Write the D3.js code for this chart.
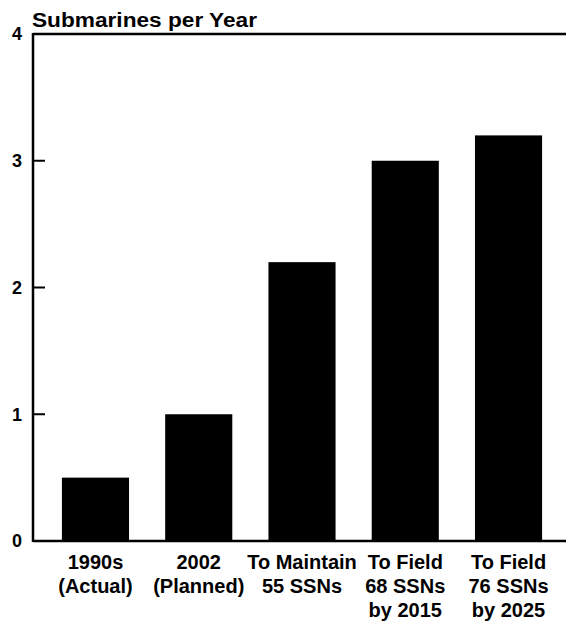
<!DOCTYPE html>
<html>
<head>
<meta charset="utf-8">
<script src="https://cdn.jsdelivr.net/npm/d3@7"></script>
<style>
  body { margin: 0; background: #fff; }
  text { font-family: "Liberation Sans", Arial, Helvetica, sans-serif; font-weight: bold; fill: #000; }
</style>
</head>
<body>
<script>
// chart data
var categories = ["1990s", "2002", "Maintain55", "Field68", "Field76"];
var labelLines = [
    ["1990s", "(Actual)"],
    ["2002", "(Planned)"],
    ["To Maintain", "55 SSNs"],
    ["To Field", "68 SSNs", "by 2015"],
    ["To Field", "76 SSNs", "by 2025"]
];
var values = [0.5, 1.0, 2.2, 3.0, 3.2];
var yTicks = [0, 1, 2, 3, 4];

var width = 566, height = 622;

var svg = d3.select("body").append("svg")
    .attr("width", width)
    .attr("height", height);

var x = d3.scaleBand()
    .domain(categories)
    .range([33, 571])
    .paddingInner(0.35)
    .paddingOuter(0.28);

var y = d3.scaleLinear()
    .domain([0, 4])
    .range([541, 34]);

// bars
svg.append("g")
    .selectAll("rect")
    .data(values)
    .enter().append("rect")
    .attr("x", function(d, i) { return x(categories[i]); })
    .attr("y", function(d) { return y(d); })
    .attr("width", x.bandwidth())
    .attr("height", function(d) { return y(0) - y(d); })
    .attr("fill", "#000");

// frame: left axis, top line, bottom line
svg.append("line")
    .attr("x1", 33).attr("x2", 33)
    .attr("y1", y(4) - 1).attr("y2", y(0) + 1)
    .attr("stroke", "#000").attr("stroke-width", 2.5);
svg.append("line")
    .attr("x1", 33).attr("x2", width)
    .attr("y1", y(4)).attr("y2", y(4))
    .attr("stroke", "#000").attr("stroke-width", 2.5);
svg.append("line")
    .attr("x1", 33).attr("x2", width)
    .attr("y1", y(0)).attr("y2", y(0))
    .attr("stroke", "#000").attr("stroke-width", 2.5);

// y ticks + labels
var ticks = svg.append("g").selectAll("g")
    .data(yTicks)
    .enter().append("g")
    .attr("transform", function(d) { return "translate(0," + y(d) + ")"; });

ticks.filter(function(d) { return d > 0 && d < 4; })
    .append("line")
    .attr("x1", 33).attr("x2", 45)
    .attr("stroke", "#000").attr("stroke-width", 2);

ticks.append("text")
    .attr("x", 22)
    .attr("dy", "0.36em")
    .attr("text-anchor", "end")
    .style("font-size", "18px")
    .text(function(d) { return d; });

// category labels
var labels = svg.append("g").selectAll("text")
    .data(labelLines)
    .enter().append("text")
    .attr("text-anchor", "middle")
    .style("font-size", "20px")
    .attr("transform", function(d, i) {
        return "translate(" + (x(categories[i]) + x.bandwidth() / 2) + ",569)";
    });

labels.selectAll("tspan")
    .data(function(d) { return d; })
    .enter().append("tspan")
    .attr("x", 0)
    .attr("y", function(d, i) { return i * 24; })
    .text(function(d) { return d; });

// title
svg.append("text")
    .attr("x", 32)
    .attr("y", 27)
    .style("font-size", "20px")
    .attr("textLength", 225)
    .attr("lengthAdjust", "spacingAndGlyphs")
    .text("Submarines per Year");
</script>
</body>
</html>
